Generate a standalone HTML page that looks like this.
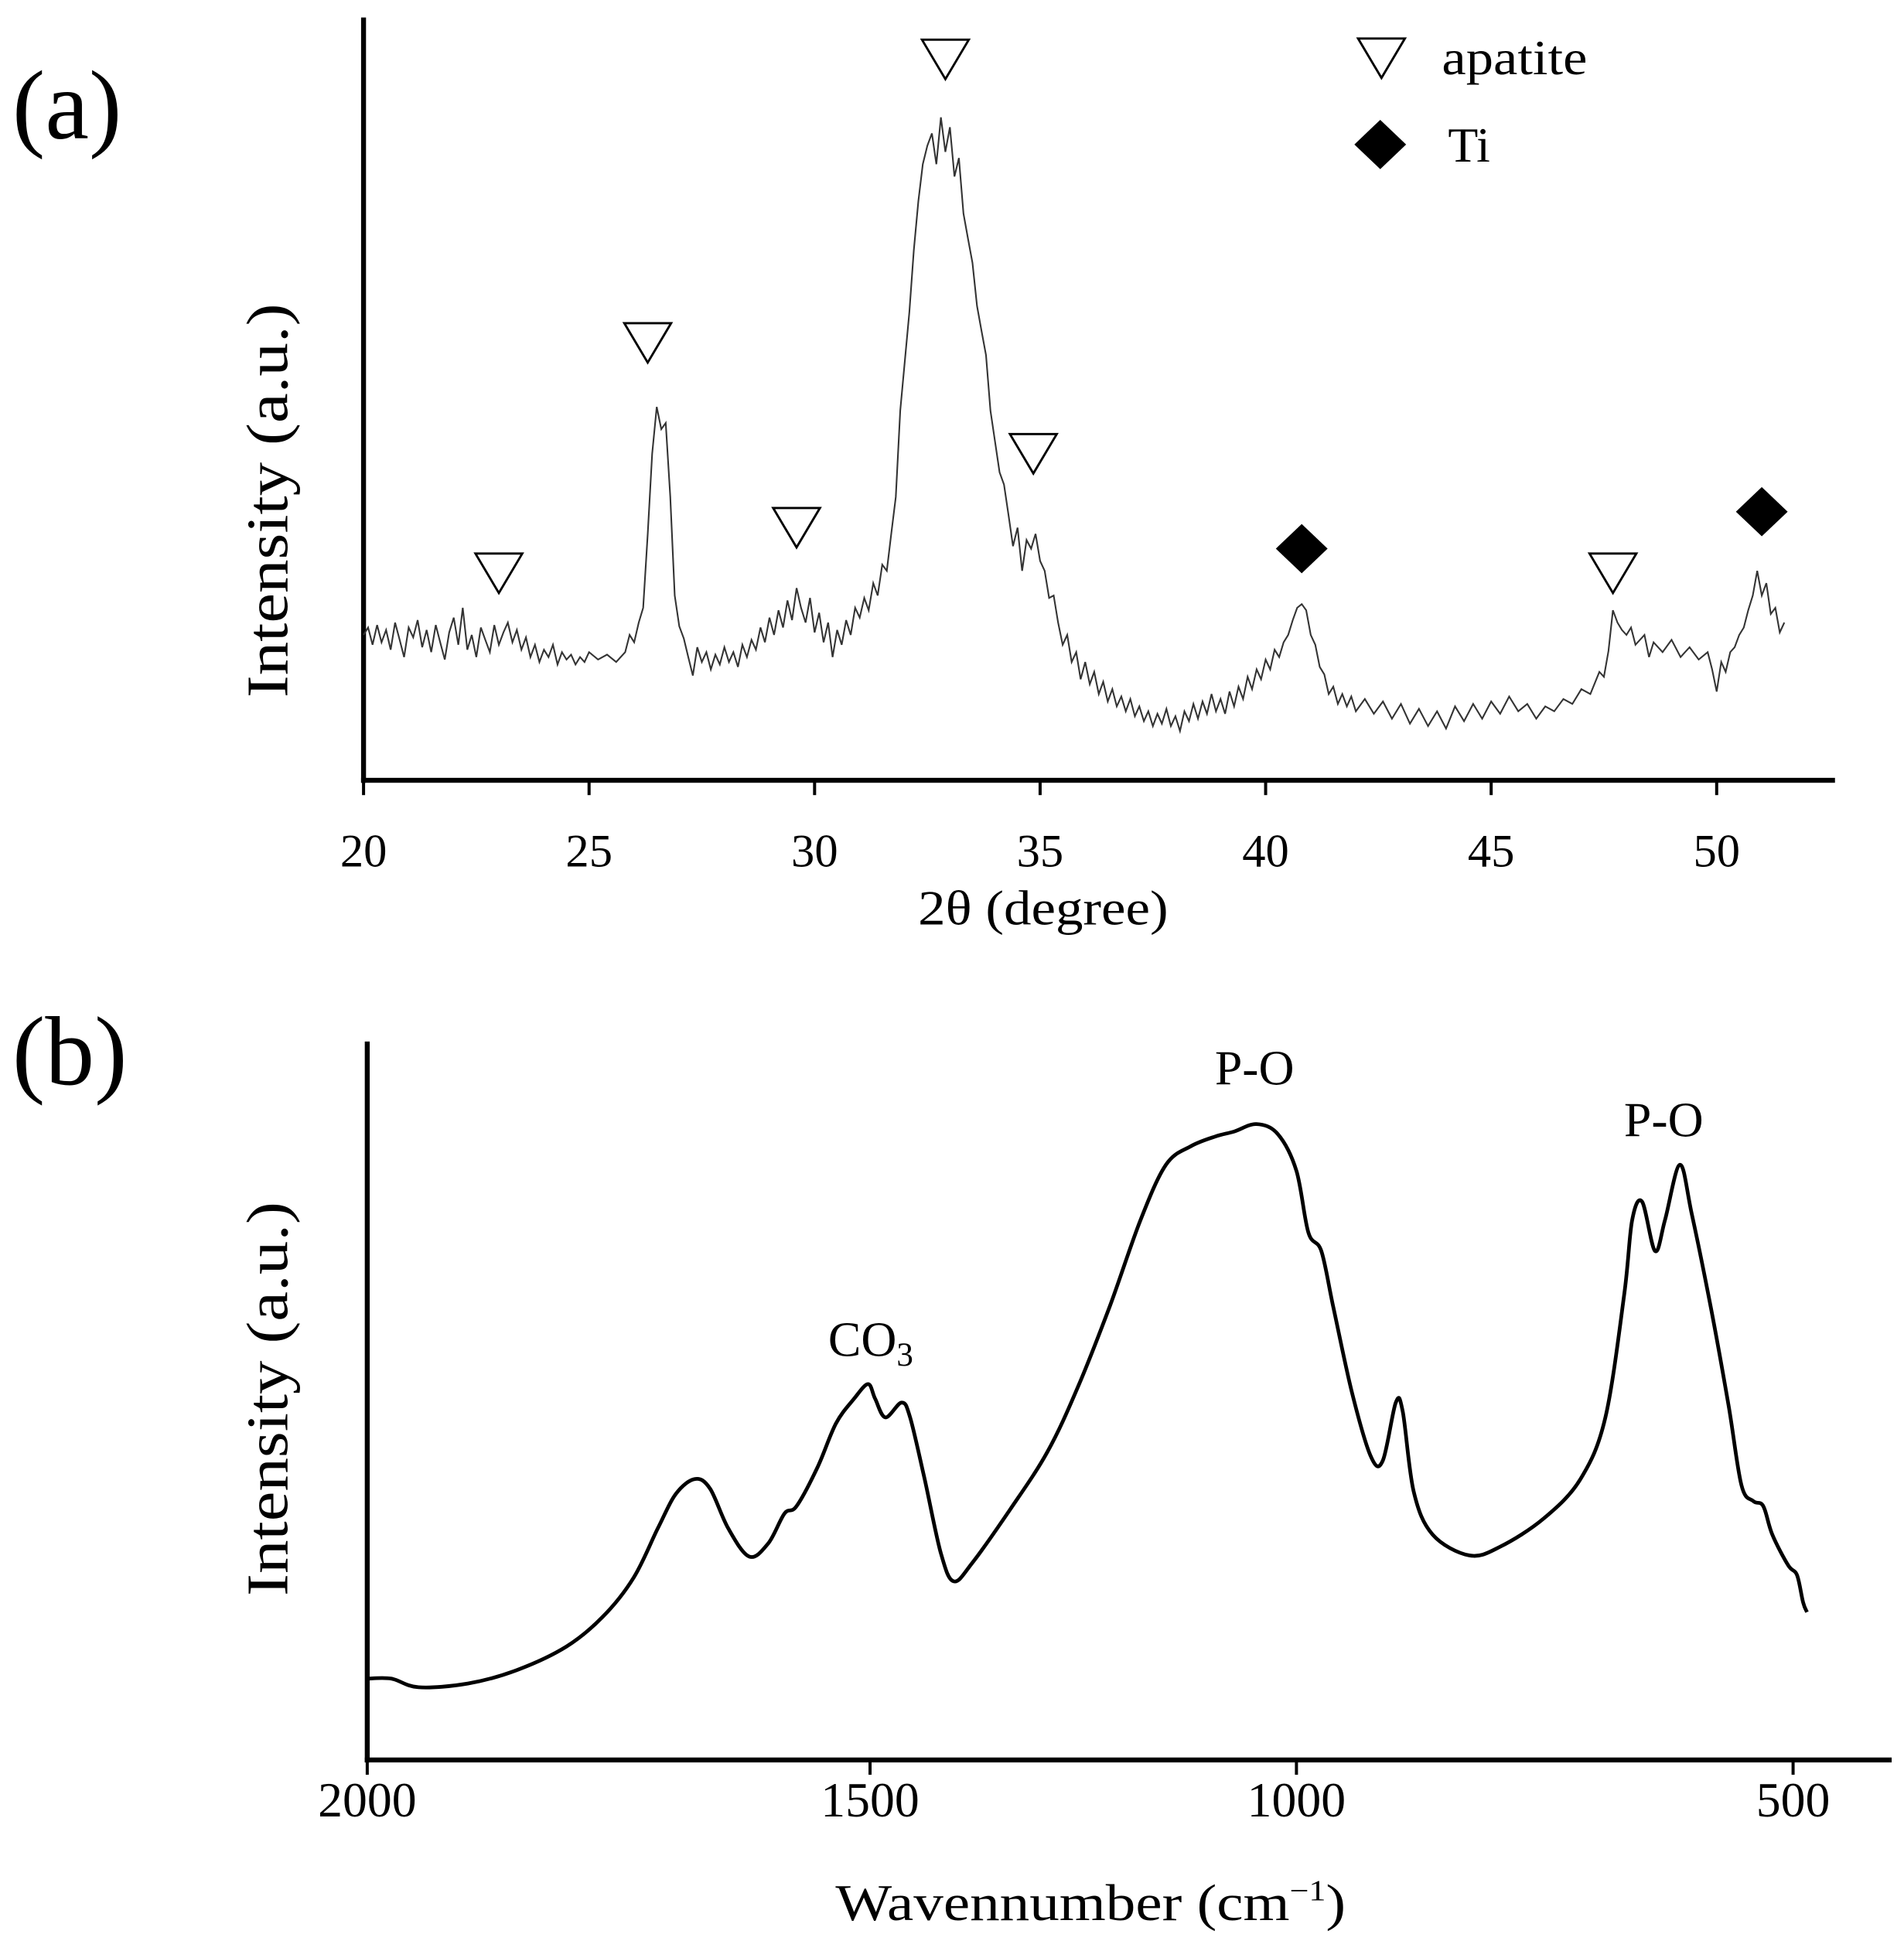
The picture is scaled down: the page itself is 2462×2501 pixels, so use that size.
<!DOCTYPE html>
<html><head><meta charset="utf-8"><style>
html,body{margin:0;padding:0;background:#fff;}
svg{display:block;}
text{font-family:"Liberation Serif",serif;fill:#000;}
</style></head><body>
<svg id="fig" width="2462" height="2501" viewBox="0 0 1545 1569" xmlns="http://www.w3.org/2000/svg">
<g id="pa"></g>
<g id="pb"></g>
</svg>
<script>
// ---- Panel (a) data ----
const xrdTicks = [20,25,30,35,40,45,50];
const xrdPoints = [[20.0,118],[20.1,124],[20.2,110],[20.3,126],[20.4,112],[20.5,122],[20.6,106],[20.7,128],[20.8,114],[20.9,100],[21.0,124],[21.1,116],[21.2,130],[21.3,108],[21.4,122],[21.5,104],[21.6,126],[21.7,112],[21.8,98],[21.9,120],[22.0,132],[22.1,110],[22.2,140],[22.3,106],[22.4,118],[22.5,100],[22.6,124],[22.7,114],[22.8,104],[22.9,126],[23.0,110],[23.1,120],[23.2,128],[23.3,112],[23.4,122],[23.5,106],[23.6,116],[23.7,100],[23.8,110],[23.9,96],[24.0,106],[24.1,100],[24.2,110],[24.3,94],[24.4,104],[24.5,98],[24.6,102],[24.7,94],[24.8,100],[24.9,96],[25.0,104],[25.2,98],[25.4,102],[25.6,96],[25.8,104],[25.9,118],[26.0,112],[26.1,128],[26.2,140],[26.3,200],[26.4,265],[26.5,303],[26.6,285],[26.7,290],[26.8,230],[26.9,150],[27.0,125],[27.1,115],[27.2,100],[27.3,85],[27.4,108],[27.5,96],[27.6,104],[27.7,90],[27.8,102],[27.9,94],[28.0,108],[28.1,96],[28.2,104],[28.3,92],[28.4,110],[28.5,100],[28.6,114],[28.7,106],[28.8,124],[28.9,112],[29.0,132],[29.1,118],[29.2,138],[29.3,124],[29.4,146],[29.5,130],[29.6,156],[29.7,140],[29.8,128],[29.9,148],[30.0,120],[30.1,136],[30.2,112],[30.3,128],[30.4,100],[30.5,122],[30.6,110],[30.7,130],[30.8,118],[30.9,140],[31.0,132],[31.1,148],[31.2,138],[31.3,160],[31.4,150],[31.5,175],[31.6,170],[31.7,200],[31.8,230],[31.9,300],[32.0,340],[32.1,380],[32.2,430],[32.3,470],[32.4,500],[32.5,515],[32.6,525],[32.7,500],[32.8,538],[32.9,510],[33.0,530],[33.1,490],[33.2,505],[33.3,460],[33.4,440],[33.5,420],[33.6,385],[33.7,365],[33.8,345],[33.9,300],[34.0,275],[34.1,250],[34.2,240],[34.3,215],[34.4,190],[34.5,205],[34.6,170],[34.7,195],[34.8,188],[34.9,200],[35.0,178],[35.1,170],[35.2,148],[35.3,150],[35.4,128],[35.5,110],[35.6,118],[35.7,96],[35.8,104],[35.9,82],[36.0,96],[36.1,78],[36.2,88],[36.3,70],[36.4,80],[36.5,64],[36.6,74],[36.7,60],[36.8,68],[36.9,56],[37.0,66],[37.1,52],[37.2,60],[37.3,48],[37.4,56],[37.5,44],[37.6,54],[37.7,46],[37.8,58],[37.9,44],[38.0,52],[38.1,40],[38.2,56],[38.3,48],[38.4,62],[38.5,50],[38.6,64],[38.7,54],[38.8,70],[38.9,56],[39.0,66],[39.1,54],[39.2,72],[39.3,60],[39.4,76],[39.5,66],[39.6,84],[39.7,74],[39.8,90],[39.9,82],[40.0,98],[40.1,90],[40.2,106],[40.3,100],[40.4,112],[40.5,118],[40.6,130],[40.7,140],[40.8,143],[40.9,138],[41.0,118],[41.1,110],[41.2,92],[41.3,86],[41.4,70],[41.5,76],[41.6,62],[41.7,70],[41.8,60],[41.9,68],[42.0,56],[42.2,66],[42.4,54],[42.6,64],[42.8,50],[43.0,62],[43.2,46],[43.4,58],[43.6,44],[43.8,56],[44.0,42],[44.2,60],[44.4,48],[44.6,62],[44.8,50],[45.0,64],[45.2,54],[45.4,68],[45.6,56],[45.8,62],[46.0,50],[46.2,60],[46.4,56],[46.6,66],[46.8,62],[47.0,74],[47.2,70],[47.4,88],[47.5,84],[47.6,105],[47.7,138],[47.8,128],[47.9,122],[48.0,118],[48.1,124],[48.2,110],[48.4,118],[48.5,100],[48.6,112],[48.8,104],[49.0,114],[49.2,100],[49.4,108],[49.6,98],[49.8,104],[49.9,90],[50.0,72],[50.1,96],[50.2,88],[50.3,104],[50.4,108],[50.5,118],[50.6,124],[50.7,138],[50.8,150],[50.9,170],[51.0,150],[51.1,160],[51.2,135],[51.3,140],[51.4,120],[51.5,128]];
const apatiteMarks = [[23.0,168],[26.3,355],[29.6,205],[32.9,585],[34.85,265],[47.7,168]];
const tiMarks = [[40.8,188],[51.0,218]];

// ---- Panel (b) data ----
const ftirTicks = [2000,1500,1000,500];
const ftirPoints = [[2000,66],[1976,66],[1949,59],[1900,62],[1851,73],[1802,92],[1766,116],[1735,148],[1711,188],[1693,216],[1674,228],[1659,220],[1641,188],[1620,165],[1601,176],[1585,200],[1573,206],[1552,238],[1534,273],[1516,293],[1502,305],[1494,293],[1482,278],[1463,290],[1453,278],[1436,228],[1417,168],[1402,145],[1380,160],[1336,203],[1292,250],[1256,303],[1219,368],[1183,438],[1153,483],[1124,498],[1095,506],[1073,510],[1047,516],[1022,508],[1000,478],[988,428],[975,413],[963,368],[944,298],[925,246],[913,243],[900,290],[893,283],[882,218],[863,183],[826,166],[795,173],[751,196],[714,228],[689,278],[670,378],[662,438],[652,453],[639,413],[629,438],[614,483],[602,443],[583,368],[565,288],[552,223],[540,210],[530,206],[521,183],[505,158],[496,150],[490,128],[486,120]];

const NS='http://www.w3.org/2000/svg';
function mk(parent,tag,attrs,txt){const e=document.createElementNS(NS,tag);for(const k in attrs)e.setAttribute(k,attrs[k]);if(txt!==undefined)e.textContent=txt;parent.appendChild(e);return e;}

// axis functions
const xa = d => 295 + (d-20)*36.6;
const ya = v => 633 - v;
const fx = [[2000,298],[1500,706],[1000,1052],[500,1455]];
function xb(w){for(let i=0;i<fx.length-1;i++){const a=fx[i],b=fx[i+1];if(w<=a[0]&&w>=b[0]||i===fx.length-2){return a[1]+(w-a[0])*(b[1]-a[1])/(b[0]-a[0]);}}}
const yb = v => 1428 - v;

function smoothPath(pts){
  let d='M'+pts[0][0].toFixed(1)+' '+pts[0][1].toFixed(1);
  for(let i=0;i<pts.length-1;i++){
    const p0=pts[Math.max(0,i-1)],p1=pts[i],p2=pts[i+1],p3=pts[Math.min(pts.length-1,i+2)];
    const c1x=p1[0]+(p2[0]-p0[0])/6,c1y=p1[1]+(p2[1]-p0[1])/6;
    const c2x=p2[0]-(p3[0]-p1[0])/6,c2y=p2[1]-(p3[1]-p1[1])/6;
    d+='C'+c1x.toFixed(1)+' '+c1y.toFixed(1)+' '+c2x.toFixed(1)+' '+c2y.toFixed(1)+' '+p2[0].toFixed(1)+' '+p2[1].toFixed(1);
  }
  return d;
}

// ---- Draw panel a ----
const pa=document.getElementById('pa');
let t=mk(pa,'text',{x:10,y:112,'font-size':80},'(a)');

let l=mk(pa,'line',{x1:295,y1:14,x2:295,y2:635,stroke:'#000','stroke-width':4});

l=mk(pa,'line',{x1:293,y1:633,x2:1489,y2:633,stroke:'#000','stroke-width':4});

xrdTicks.forEach(d=>{
  const tk=mk(pa,'line',{x1:xa(d),y1:633,x2:xa(d),y2:645,stroke:'#000','stroke-width':2.5});
  
  const tl=mk(pa,'text',{x:xa(d),y:703,'font-size':38,'text-anchor':'middle'},String(d));
  
});
t=mk(pa,'text',{x:745,y:750,'font-size':40,textLength:203,lengthAdjust:'spacingAndGlyphs'},'2θ (degree)');

t=mk(pa,'text',{x:-203,y:0,'font-size':48,textLength:320,lengthAdjust:'spacingAndGlyphs',transform:'translate(233,363) rotate(-90)'},'Intensity (a.u.)');

let p=mk(pa,'path',{d:xrdPoints.map((q,i)=>(i?'L':'M')+xa(q[0]).toFixed(1)+' '+ya(q[1]).toFixed(1)).join(''),fill:'none',stroke:'#333','stroke-width':1.3});

function tri(g,cx,cy){const s=mk(g,'path',{d:`M${cx-19} ${cy-16}L${cx+19} ${cy-16}L${cx} ${cy+16}Z`,fill:'#fff',stroke:'#000','stroke-width':1.8});return s;}
function dia(g,cx,cy){return mk(g,'path',{d:`M${cx} ${cy-20}L${cx+21} ${cy}L${cx} ${cy+20}L${cx-21} ${cy}Z`,fill:'#000'});}
apatiteMarks.forEach(m=>{const s=tri(pa,xa(m[0]),ya(m[1]));
  });
tiMarks.forEach(m=>{const s=dia(pa,xa(m[0]),ya(m[1]));
  });
let lg=tri(pa,1121,47);
t=mk(pa,'text',{x:1170,y:60,'font-size':40,textLength:118,lengthAdjust:'spacingAndGlyphs'},'apatite');
lg=dia(pa,1120,117);
t=mk(pa,'text',{x:1175,y:131,'font-size':40},'Ti');

// ---- Draw panel b ----
const pb=document.getElementById('pb');
t=mk(pb,'text',{x:10,y:880,'font-size':80},'(b)');

l=mk(pb,'line',{x1:298,y1:845,x2:298,y2:1430,stroke:'#000','stroke-width':4});

l=mk(pb,'line',{x1:296,y1:1428,x2:1535,y2:1428,stroke:'#000','stroke-width':4});

ftirTicks.forEach(w=>{
  const tk=mk(pb,'line',{x1:xb(w),y1:1428,x2:xb(w),y2:1440,stroke:'#000','stroke-width':2.5});
  
  const tl=mk(pb,'text',{x:xb(w),y:1474,'font-size':40,'text-anchor':'middle'},String(w));
  
});
t=mk(pb,'text',{x:678,y:1558,'font-size':42,textLength:414,lengthAdjust:'spacingAndGlyphs'},'Wavennumber (cm');

mk(t,'tspan',{'font-size':24,dy:-16},'−1');
mk(t,'tspan',{dy:16},')');
t=mk(pb,'text',{x:-160,y:0,'font-size':48,textLength:320,lengthAdjust:'spacingAndGlyphs',transform:'translate(233,1135) rotate(-90)'},'Intensity (a.u.)');

p=mk(pb,'path',{d:smoothPath(ftirPoints.map(q=>[xb(q[0]),yb(q[1])])),fill:'none',stroke:'#000','stroke-width':3,'stroke-linejoin':'round'});

t=mk(pb,'text',{x:672,y:1100,'font-size':40},'CO');
mk(t,'tspan',{'font-size':27,dy:8},'3');
t=mk(pb,'text',{x:1018,y:880,'font-size':40,'text-anchor':'middle'},'P-O');
t=mk(pb,'text',{x:1350,y:922,'font-size':40,'text-anchor':'middle'},'P-O');
</script>
</body></html>
